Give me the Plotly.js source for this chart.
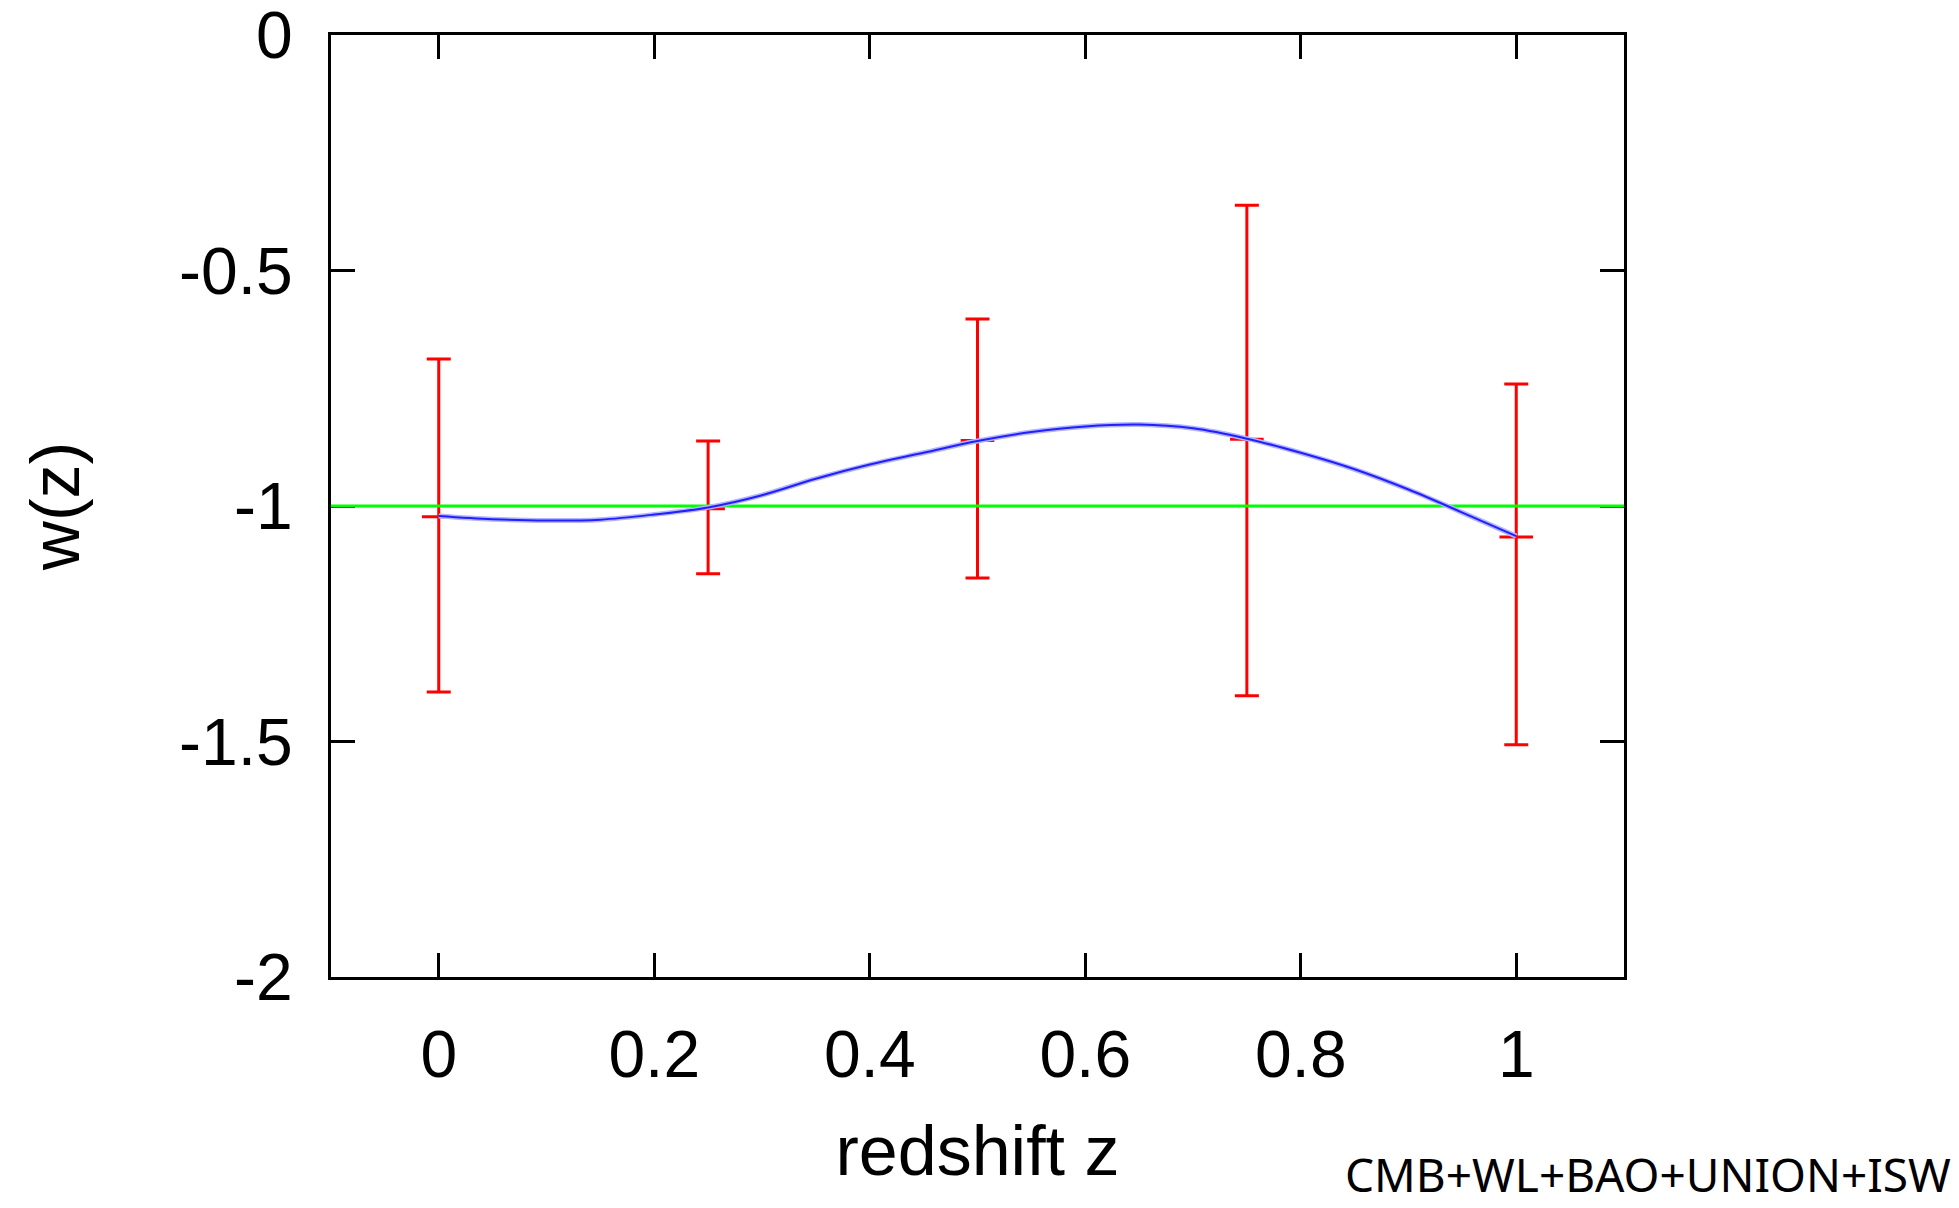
<!DOCTYPE html>
<html>
<head>
<meta charset="utf-8">
<script src="https://cdn.plot.ly/plotly-3.0.1.min.js"></script>
<style>
  html, body { margin: 0; padding: 0; background: #ffffff; }
  #chart { width: 1959px; height: 1208px; }
</style>
</head>
<body>
<div id="chart"></div>
<script>
// Binned w(z) reconstruction: bin centres, central values and 1-sigma limits
const zBins   = [0, 0.25, 0.5, 0.75, 1.0];
const wCenter = [-1.023, -1.006, -0.861, -0.858, -1.066];
const wUpper  = [-0.688, -0.862, -0.603, -0.361, -0.741];
const wLower  = [-1.395, -1.144, -1.153, -1.403, -1.507];

// Smooth reconstructed curve
const zCurve = [0, 0.05, 0.1, 0.15, 0.2, 0.25, 0.3, 0.35, 0.4, 0.45, 0.5,
                0.55, 0.6, 0.65, 0.7, 0.75, 0.8, 0.85, 0.9, 0.95, 1.0];
const wCurve = [-1.021, -1.028, -1.031, -1.029, -1.018, -1.003, -0.977, -0.942,
                -0.912, -0.887, -0.862, -0.843, -0.831, -0.827, -0.835, -0.857,
                -0.887, -0.922, -0.965, -1.014, -1.064];

// Cosmological constant reference line w = -1
const zLambda = [-0.1, 1.1];
const wLambda = [-1, -1];

// Axis ticks
const xTicks = [0, 0.2, 0.4, 0.6, 0.8, 1];
const xTickText = ['0', '0.2', '0.4', '0.6', '0.8', '1'];
const yTicks = [0, -0.5, -1, -1.5, -2];
const yTickText = ['0', '-0.5', '-1', '-1.5', '-2'];

const errPlus  = wUpper.map((u, i) => u - wCenter[i]);
const errMinus = wCenter.map((c, i) => c - wLower[i]);

const FONT = 'Liberation Sans, Arial, sans-serif';

const traces = [
  {
    x: zBins, y: wCenter, type: 'scatter', mode: 'markers',
    marker: { symbol: 'line-ew', size: 24, color: '#ff0000',
              line: { color: '#ff0000', width: 3 } },
    error_y: { type: 'data', symmetric: false, array: errPlus, arrayminus: errMinus,
               color: '#ff0000', thickness: 3, width: 12 },
    hoverinfo: 'skip', cliponaxis: false
  },
  {
    x: zLambda, y: wLambda, type: 'scatter', mode: 'lines',
    line: { color: '#00ff00', width: 3 }, hoverinfo: 'skip'
  },
  {
    x: zCurve, y: wCurve, type: 'scatter', mode: 'lines',
    line: { color: '#b4b4ff', width: 5, shape: 'spline' }, hoverinfo: 'skip'
  },
  {
    x: zCurve, y: wCurve, type: 'scatter', mode: 'lines',
    line: { color: '#2020ff', width: 2, shape: 'spline' }, hoverinfo: 'skip'
  }
];

const layout = {
  width: 1959, height: 1208,
  paper_bgcolor: '#ffffff', plot_bgcolor: '#ffffff',
  showlegend: false,
  margin: { l: 331, r: 335, t: 35, b: 231, autoexpand: false },
  font: { family: FONT, color: '#000000', size: 64 },
  xaxis: {
    range: [-0.1, 1.1],
    tickmode: 'array', tickvals: xTicks, ticktext: xTickText,
    ticks: 'inside', ticklen: 24, tickwidth: 3, tickcolor: '#000000',
    showline: true, linecolor: '#000000', linewidth: 3, mirror: 'ticks',
    showgrid: false, zeroline: false, layer: 'below traces',
    tickfont: { family: FONT, size: 66, color: '#000000' },
    ticklabelstandoff: 18, ticklabeloverflow: 'allow',
    title: { text: 'redshift z', font: { family: FONT, size: 70, color: '#000000' }, standoff: 36 },
    automargin: false
  },
  yaxis: {
    range: [-2.0004, 0.0004],
    tickmode: 'array', tickvals: yTicks, ticktext: yTickText,
    ticks: 'inside', ticklen: 24, tickwidth: 3, tickcolor: '#000000',
    showline: true, linecolor: '#000000', linewidth: 3, mirror: 'ticks',
    showgrid: false, zeroline: false, layer: 'below traces',
    tickfont: { family: FONT, size: 66, color: '#000000' },
    ticklabelstandoff: 22, ticklabeloverflow: 'allow',
    title: { text: 'w(z)', font: { family: FONT, size: 68, color: '#000000' }, standoff: 78 },
    automargin: false
  },
  annotations: [
    {
      text: 'CMB+WL+BAO+UNION+ISW',
      xref: 'paper', yref: 'paper',
      x: (1953 - 331) / 1293, y: (977 - 1207) / 942,
      xanchor: 'right', yanchor: 'bottom', showarrow: false,
      font: { family: 'Noto Sans, sans-serif', size: 46, color: '#000000' }
    }
  ]
};

Plotly.newPlot('chart', traces, layout, { staticPlot: true, displayModeBar: false });
</script>
</body>
</html>
